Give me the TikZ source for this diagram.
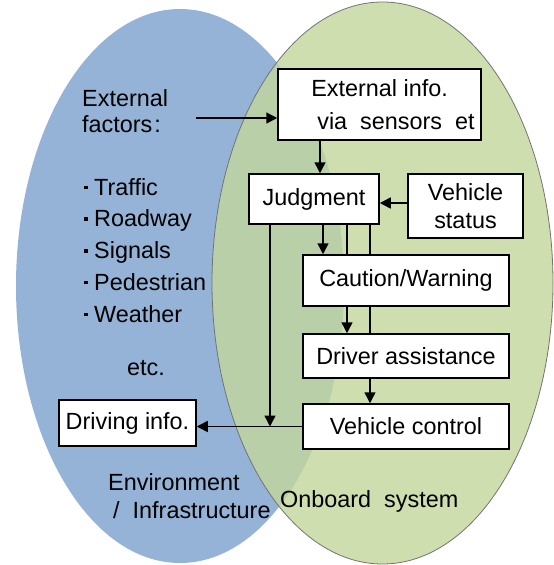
\documentclass[tikz,border=0pt]{standalone}
\usepackage{fontspec}
\setmainfont{Liberation Sans}
\usetikzlibrary{arrows.meta}
\usetikzlibrary{backgrounds}
\pgfdeclarelayer{lines}
\pgfsetlayers{background,lines,main}
\definecolor{envblue}{HTML}{95B3D7}
\definecolor{boardgreen}{HTML}{C3D69B}
\newcommand{\dotitem}{\makebox[11pt][l]{\hspace*{1.25pt}\rule[6pt]{3.5pt}{3.5pt}}}

\begin{document}
\begin{tikzpicture}[x=1pt, y=-1pt, font=\fontsize{23.4}{28}\selectfont,
  box/.style = {draw, fill=white, line width=1.5pt, inner sep=0pt, align=center},
  lbl/.style = {inner sep=0pt, align=left},
  arr/.style = {line width=1.5pt, -{Triangle[length=11pt,width=11pt]}}]
  \useasboundingbox (0,0) rectangle (554,565);
  % the two areas
  \begin{scope}[on background layer]
    \fill[envblue] (180,286) ellipse [x radius=164pt, y radius=277pt];
    \filldraw[fill=boardgreen, fill opacity=0.8, draw=black!55, line width=0.8pt]
      (382.5,283) ellipse [x radius=170.5pt, y radius=281pt];
  \end{scope}
  % onboard boxes
  \node[box, minimum width=203pt, minimum height=71pt, align=left] (extinfo) at (379.5,104.5)
    {\hspace*{27pt}External info.\\[5pt]\hspace*{33pt}via\ \ sensors\ \ et};
  \node[box, minimum width=130pt, minimum height=50pt] (judg) at (314,199) {Judgment};
  \node[box, minimum width=115pt, minimum height=64pt] (vstatus) at (465.5,206) {Vehicle\\status};
  \node[box, minimum width=206pt, minimum height=51pt] (caution) at (406,280.5) {Caution/Warning};
  \node[box, minimum width=206pt, minimum height=44pt] (driver) at (406,356) {Driver assistance};
  \node[box, minimum width=206pt, minimum height=45pt] (vctrl) at (406,426.5) {Vehicle control};
  \node[box, minimum width=137pt, minimum height=46pt] (drvinfo) at (127.5,423) {Driving info.};
  % environment texts (base = last line)
  \node[lbl, anchor=base west] (factors) at (82,132) {External\\[-2pt]factors\hspace*{2pt}:};
  \node[lbl, anchor=base west, font=\fontsize{23.4}{31.75}\selectfont] (items) at (83,322)
    {\dotitem Traffic\\\dotitem Roadway\\\dotitem Signals\\\dotitem Pedestrian\\\dotitem Weather};
  \node[lbl, anchor=base] (etc) at (146,375) {etc.};
  \node[lbl, anchor=base west] (env) at (108,518) {Environment\\\hspace*{5pt}/\ \ Infrastructure};
  \node[lbl, anchor=base west] (onboard) at (280,507) {Onboard\ \ system};
  % connectors
  \coordinate (fstart) at (196,118);
  \coordinate (jin) at ([xshift=6pt]judg.north);
  \coordinate (jA) at ([xshift=9pt]judg.south);
  \coordinate (jB) at ([xshift=33pt]judg.south);
  \coordinate (jC) at ([xshift=56pt]judg.south);
  \coordinate (jD) at ([xshift=-44pt]judg.south);
  \begin{pgfonlayer}{lines}
    \draw[arr] (fstart) -- (fstart -| extinfo.west);
    \draw[arr] (extinfo.south -| jin) -- (jin);
    \draw[arr] ([yshift=3pt]vstatus.west) -- ([yshift=3pt]vstatus.west -| judg.east);
    \draw[arr] (jA) -- (jA |- caution.north);
    \draw[arr] (jB) -- (jB |- driver.north);
    \draw[arr] (jC) -- (jC |- vctrl.north);
    \draw[arr] (jD) -- (jD |- vctrl.west);
    \draw[arr] (vctrl.west) -- (vctrl.west -| drvinfo.east);
  \end{pgfonlayer}
\end{tikzpicture}
\end{document}
